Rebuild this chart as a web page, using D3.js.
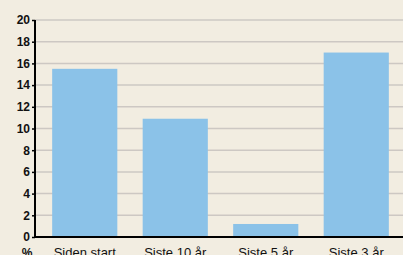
<!DOCTYPE html>
<html><head><meta charset="utf-8">
<script src="https://cdn.jsdelivr.net/npm/d3@7"></script>
<style>
html,body{margin:0;padding:0;background:#f2ede1;overflow:hidden;}
svg{display:block;}
</style></head>
<body>
<script>
const categories = ["Siden start", "Siste 10 år", "Siste 5 år", "Siste 3 år"];
const values = [15.5, 10.9, 1.2, 17.0];
const yTicks = [0, 2, 4, 6, 8, 10, 12, 14, 16, 18, 20];
const unitLabel = "%";

const W = 403, H = 255;
const svg = d3.select("body").append("svg").attr("width", W).attr("height", H);
svg.append("rect").attr("width", W).attr("height", H).attr("fill", "#f2ede1");

const y = d3.scaleLinear().domain([0, 20]).range([237, 20]);
const x = d3.scaleBand().domain(categories).range([39.5, 401.5]).paddingInner(0.28).paddingOuter(0.14);
const x0 = 35;

// gridlines
svg.append("g").selectAll("line").data(yTicks.filter(d => d > 0)).join("line")
  .attr("x1", x0).attr("x2", W).attr("y1", d => y(d)).attr("y2", d => y(d))
  .attr("stroke", "#cdc8c3").attr("stroke-width", 1.5);

// bars
svg.append("g").selectAll("rect").data(values).join("rect")
  .attr("x", (d, i) => x(categories[i]))
  .attr("width", x.bandwidth())
  .attr("y", d => y(d))
  .attr("height", d => y(0) - y(d))
  .attr("fill", "#8bc2e8");

// y axis
const yAxis = svg.append("g").attr("transform", `translate(${x0},0)`)
  .call(d3.axisLeft(y).tickValues(yTicks).tickSize(3).tickPadding(2));
yAxis.select(".domain").remove();
yAxis.selectAll(".tick line").attr("stroke", "#000").attr("stroke-width", 1.5);
yAxis.selectAll(".tick text").attr("font-family", "Liberation Sans, Arial, sans-serif")
  .attr("font-size", 12).attr("font-weight", "bold").attr("fill", "#111");
svg.append("line").attr("x1", x0).attr("x2", x0).attr("y1", y(20)).attr("y2", y(0) + 1)
  .attr("stroke", "#000").attr("stroke-width", 2);

// x axis
const xAxis = svg.append("g").attr("transform", `translate(0,${y(0)})`)
  .call(d3.axisBottom(x).tickSize(0).tickPadding(11));
xAxis.select(".domain").remove();
xAxis.selectAll(".tick text").attr("font-family", "Liberation Sans, Arial, sans-serif")
  .attr("font-size", 13).attr("fill", "#111");
svg.append("line").attr("x1", x0 - 1).attr("x2", W).attr("y1", y(0)).attr("y2", y(0))
  .attr("stroke", "#000").attr("stroke-width", 2);

svg.append("text").attr("x", 27).attr("y", y(0) + 20).attr("text-anchor", "middle")
  .attr("font-family", "Liberation Sans, Arial, sans-serif").attr("font-size", 12)
  .attr("font-weight", "bold").attr("fill", "#111").text(unitLabel);
</script>
</body></html>
